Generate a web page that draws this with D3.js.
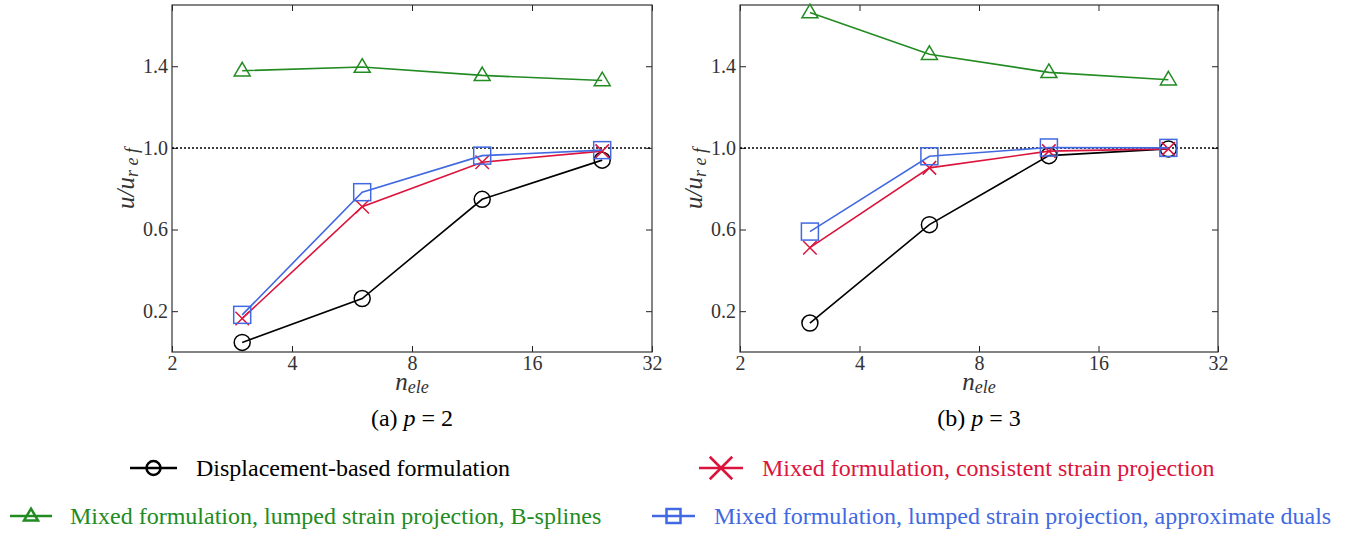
<!DOCTYPE html>
<html><head><meta charset="utf-8">
<script src="https://cdn.jsdelivr.net/npm/d3@7"></script>
<style>body{margin:0;background:#fff}svg{display:block}</style>
</head><body><svg id="c" width="1355" height="534"></svg>
<script>
const nEle = [3, 6, 12, 24];
const xTicks = [2, 4, 8, 16, 32];
const yTicks = [0.2, 0.6, 1.0, 1.4];
const panelCaptions = ["(a) ", "(b) "];
const panelP = ["2", "3"];
// p = 2
const dispP2 = [0.047, 0.262, 0.748, 0.940];
const consP2 = [0.164, 0.712, 0.930, 0.984];
const bsplP2 = [1.378, 1.396, 1.355, 1.330];
const dualP2 = [0.182, 0.783, 0.962, 0.989];
// p = 3
const dispP3 = [0.142, 0.624, 0.962, 0.995];
const consP3 = [0.511, 0.902, 0.984, 0.995];
const bsplP3 = [1.663, 1.459, 1.370, 1.334];
const dualP3 = [0.590, 0.959, 1.002, 1.000];
const seriesNames = ["Displacement-based formulation", "Mixed formulation, consistent strain projection",
  "Mixed formulation, lumped strain projection, B-splines", "Mixed formulation, lumped strain projection, approximate duals"];
const colors = ["#000000", "#DC143C", "#228B22", "#4169E1"];
const markers = ["circle", "x", "triangle", "square"];

const svg = d3.select("#c");
const serif = "'Liberation Serif','DejaVu Serif',serif";
const panels = [
  {x0: 172, x1: 652, data: [dispP2, consP2, bsplP2, dualP2]},
  {x0: 740, x1: 1218, data: [dispP3, consP3, bsplP3, dualP3]}
];
const plotTop = 5, plotBottom = 352;

function drawMarker(g, type, cx, cy, color, s, sw) {
  sw = sw || 1.5;
  if (type === "circle") {
    g.append("circle").attr("cx", cx).attr("cy", cy).attr("r", s).attr("fill", "none").attr("stroke", color).attr("stroke-width", sw);
  } else if (type === "square") {
    g.append("rect").attr("x", cx - s).attr("y", cy - s).attr("width", 2 * s).attr("height", 2 * s).attr("fill", "none").attr("stroke", color).attr("stroke-width", sw);
  } else if (type === "triangle") {
    g.append("path").attr("d", `M${cx},${cy - s * 1.05}L${cx + s},${cy + s * 0.65}L${cx - s},${cy + s * 0.65}Z`).attr("fill", "none").attr("stroke", color).attr("stroke-width", sw);
  } else if (type === "x") {
    const k = s * 0.75;
    g.append("path").attr("d", `M${cx - k},${cy - k}L${cx + k},${cy + k}M${cx - k},${cy + k}L${cx + k},${cy - k}`).attr("stroke", color).attr("stroke-width", sw);
  }
}

panels.forEach((p, pi) => {
  const x = d3.scaleLog().base(2).domain([2, 32]).range([p.x0, p.x1]);
  const y = d3.scaleLinear().domain([0, 1.7]).range([plotBottom, plotTop]);
  const g = svg.append("g");
  const ax = g.append("g").attr("transform", `translate(0,${plotBottom})`)
    .call(d3.axisBottom(x).tickValues(xTicks).tickFormat(d3.format("d")).tickSizeInner(-6).tickSizeOuter(0).tickPadding(4));
  const axT = g.append("g").attr("transform", `translate(0,${plotTop})`)
    .call(d3.axisTop(x).tickValues(xTicks).tickFormat("").tickSizeInner(-6).tickSizeOuter(0));
  const ay = g.append("g").attr("transform", `translate(${p.x0},0)`)
    .call(d3.axisLeft(y).tickValues(yTicks).tickFormat(d3.format(".1f")).tickSizeInner(-6).tickSizeOuter(0).tickPadding(4));
  const ayR = g.append("g").attr("transform", `translate(${p.x1},0)`)
    .call(d3.axisRight(y).tickValues(yTicks).tickFormat("").tickSizeInner(-6).tickSizeOuter(0));
  [ax, axT, ay, ayR].forEach(a => {
    a.select(".domain").remove();
    a.selectAll("line").attr("stroke", "#222").attr("stroke-width", 1);
    a.selectAll("text").attr("font-family", serif).attr("font-size", 20).attr("fill", "#333");
  });
  g.append("rect").attr("x", p.x0).attr("y", plotTop).attr("width", p.x1 - p.x0).attr("height", plotBottom - plotTop)
    .attr("fill", "none").attr("stroke", "#333").attr("stroke-width", 1.2);
  g.append("line").attr("x1", p.x0).attr("x2", p.x1).attr("y1", y(1)).attr("y2", y(1))
    .attr("stroke", "#000").attr("stroke-width", 1.5).attr("stroke-dasharray", "2,2");
  const order = [0, 2, 1, 3];
  order.forEach(si => {
    const vals = p.data[si];
    const line = d3.line().x((d, i) => x(nEle[i])).y(d => y(d));
    g.append("path").attr("d", line(vals)).attr("fill", "none").attr("stroke", colors[si]).attr("stroke-width", 1.6);
    const sz = {circle: 8, square: 8.5, triangle: 8, x: 9}[markers[si]];
    vals.forEach((v, i) => drawMarker(g, markers[si], x(nEle[i]), y(v), colors[si], sz));
  });
  const cx = (p.x0 + p.x1) / 2;
  const xl = g.append("text").attr("x", cx).attr("y", 390).attr("text-anchor", "middle")
    .attr("font-family", serif).attr("font-size", 25).attr("font-style", "italic").attr("fill", "#333");
  xl.append("tspan").text("n");
  xl.append("tspan").attr("font-size", 18).attr("dy", 3).text("ele");
  const yl = g.append("text").attr("transform", `translate(${p.x0 - 38},${(plotTop + plotBottom) / 2}) rotate(-90)`)
    .attr("text-anchor", "middle").attr("font-family", serif).attr("font-size", 25).attr("font-style", "italic").attr("fill", "#333");
  yl.append("tspan").text("u/u");
  yl.append("tspan").attr("font-size", 18).attr("dy", 4).text("r e f");
  const cap = g.append("text").attr("x", cx).attr("y", 426).attr("text-anchor", "middle")
    .attr("font-family", serif).attr("font-size", 24).attr("fill", "#000");
  cap.append("tspan").text(panelCaptions[pi]);
  cap.append("tspan").attr("font-style", "italic").text("p");
  cap.append("tspan").text(" = " + panelP[pi]);
});

const legendPos = [
  {lx0: 130, lx1: 177, tx: 196, y: 468},
  {lx0: 699, lx1: 743, tx: 762, y: 468},
  {lx0: 10, lx1: 52, tx: 70, y: 516},
  {lx0: 652, lx1: 695, tx: 714, y: 516}
];
const lg = svg.append("g");
seriesNames.forEach((name, si) => {
  const L = legendPos[si];
  lg.append("line").attr("x1", L.lx0).attr("x2", L.lx1).attr("y1", L.y).attr("y2", L.y).attr("stroke", colors[si]).attr("stroke-width", 2.5);
  drawMarker(lg, markers[si], (L.lx0 + L.lx1) / 2, L.y, colors[si], markers[si] === "x" ? 15 : 7, 2.5);
  lg.append("text").attr("x", L.tx).attr("y", L.y + 8).attr("font-family", serif).attr("font-size", 24)
    .attr("fill", colors[si]).text(name);
});
</script></body></html>
